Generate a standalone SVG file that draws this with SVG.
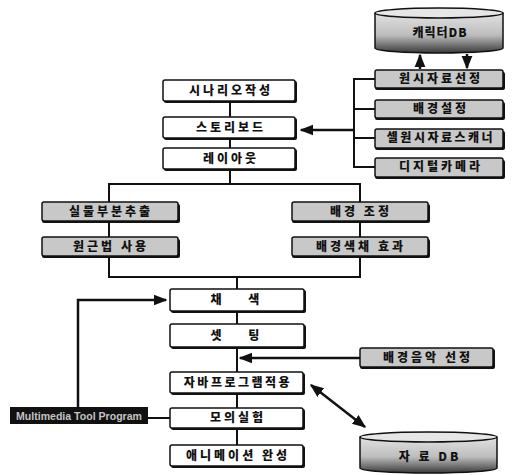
<svg xmlns="http://www.w3.org/2000/svg" width="516" height="475" viewBox="0 0 516 475">
<style>
.t{font-family:"Noto Sans CJK KR","Noto Sans",sans-serif;font-weight:900;font-size:12px;letter-spacing:3px;text-anchor:middle;fill:#111}
.w{fill:#fff;stroke:#111;stroke-width:1.5}
.g{fill:#c8c8c8;stroke:#111;stroke-width:1.5}
.sh{fill:#111}
.ln{fill:none;stroke:#111;stroke-width:2}
.ar{fill:none;stroke:#111;stroke-width:2.5}
</style>
<defs>
<marker id="ah" viewBox="0 0 10 10" refX="9" refY="5" markerWidth="5.5" markerHeight="5.5" orient="auto-start-reverse" markerUnits="strokeWidth"><path d="M0,1 L10,5 L0,9 z" fill="#111"/></marker>
<linearGradient id="cyl" x1="0" y1="0" x2="0" y2="1"><stop offset="0" stop-color="#e2e2e2"/><stop offset="0.55" stop-color="#bdbdbd"/><stop offset="1" stop-color="#3a3a3a"/></linearGradient>
</defs>
<g id="connectors">
<polyline class="ln" points="230,102 230,117"/>
<polyline class="ln" points="230,138 230,148"/>
<polyline class="ln" points="230,170 230,184"/>
<polyline class="ln" points="109,202 109,184 360,184 360,202"/>
<line class="ln" x1="109" y1="221" x2="109" y2="237"/>
<line class="ln" x1="360" y1="221" x2="360" y2="237"/>
<polyline class="ln" points="109,256 109,277 360,277 360,256"/>
<line class="ln" x1="237" y1="277" x2="237" y2="289"/>
<line class="ln" x1="237" y1="312" x2="237" y2="324"/>
<line class="ln" x1="237" y1="348" x2="237" y2="372"/>
<line class="ln" x1="237" y1="393" x2="237" y2="408"/>
<line class="ln" x1="237" y1="428" x2="237" y2="445"/>
<polyline class="ar" points="78,407 78,300 166,300" marker-end="url(#ah)"/>
<line class="ln" x1="148" y1="418" x2="170" y2="418"/>
<line class="ar" x1="360" y1="358" x2="240" y2="358" marker-end="url(#ah)"/>
<line class="ar" x1="311" y1="385" x2="365" y2="427" marker-start="url(#ah)" marker-end="url(#ah)"/>
<polyline class="ln" points="375,79 354,79 354,167 375,167"/>
<line class="ln" x1="354" y1="109" x2="375" y2="109"/>
<line class="ln" x1="354" y1="138" x2="375" y2="138"/>
<line class="ar" x1="354" y1="130" x2="301" y2="130" marker-end="url(#ah)"/>
<line class="ar" x1="420" y1="69" x2="420" y2="55" marker-end="url(#ah)"/>
<line class="ar" x1="467" y1="54" x2="467" y2="68" marker-end="url(#ah)"/>
</g>
<g id="chardb">
<path d="M375,13 L375,48 A64,5 0 0 0 503,48 L503,13" fill="url(#cyl)" stroke="#111" stroke-width="1.5"/>
<ellipse cx="439" cy="13" rx="64" ry="5" fill="#e6e6e6" stroke="#111" stroke-width="1.5"/>
<text class="t" x="440" y="37" style="letter-spacing:1px">캐릭터DB</text>
</g>
<g id="n1"><rect class="sh" x="375" y="72" width="130" height="18" rx="2"/><rect class="g" x="375" y="70" width="128" height="18" rx="2"/><text class="t" x="441" y="83">원시자료선정</text></g>
<g id="n2"><rect class="sh" x="375" y="102" width="130" height="18" rx="2"/><rect class="g" x="375" y="100" width="128" height="18" rx="2"/><text class="t" x="441" y="113">배경설정</text></g>
<g id="n3"><rect class="sh" x="375" y="131" width="130" height="19" rx="2"/><rect class="g" x="375" y="129" width="128" height="19" rx="2"/><text class="t" x="441" y="142" style="letter-spacing:2.5px">셀원시자료스캐너</text></g>
<g id="n4"><rect class="sh" x="375" y="160" width="130" height="19" rx="2"/><rect class="g" x="375" y="158" width="128" height="19" rx="2"/><text class="t" x="441" y="171">디지털카메라</text></g>
<g id="scenario"><rect class="sh" x="164" y="81" width="133" height="22" rx="2"/><rect class="w" x="163" y="80" width="132" height="21" rx="2"/><text class="t" x="231" y="95">시나리오작성</text></g>
<g id="storyboard"><rect class="sh" x="164" y="118" width="133" height="22" rx="2"/><rect class="w" x="163" y="117" width="132" height="21" rx="2"/><text class="t" x="231" y="132">스토리보드</text></g>
<g id="layout"><rect class="sh" x="164" y="149" width="133" height="22" rx="2"/><rect class="w" x="163" y="148" width="132" height="21" rx="2"/><text class="t" x="231" y="163">레이아웃</text></g>
<g id="extract"><rect class="sh" x="42" y="204" width="138" height="19" rx="2"/><rect class="g" x="42" y="202" width="136" height="19" rx="2"/><text class="t" x="111" y="216">실물부분추출</text></g>
<g id="perspective"><rect class="sh" x="42" y="239" width="138" height="19" rx="2"/><rect class="g" x="42" y="237" width="136" height="19" rx="2"/><text class="t" x="111" y="251">원근법 사용</text></g>
<g id="bgadjust"><rect class="sh" x="292" y="204" width="138" height="19" rx="2"/><rect class="g" x="292" y="202" width="136" height="19" rx="2"/><text class="t" x="361" y="216">배경 조정</text></g>
<g id="bgcolor"><rect class="sh" x="292" y="239" width="138" height="19" rx="2"/><rect class="g" x="292" y="237" width="136" height="19" rx="2"/><text class="t" x="361" y="251">배경색채 효과</text></g>
<g id="coloring"><rect class="sh" x="171" y="290" width="135" height="23" rx="2"/><rect class="w" x="170" y="289" width="134" height="22" rx="2"/><text class="t" x="241" y="304" style="letter-spacing:12px">채 색</text></g>
<g id="setting"><rect class="sh" x="171" y="325" width="135" height="24" rx="2"/><rect class="w" x="170" y="324" width="134" height="23" rx="2"/><text class="t" x="241" y="340" style="letter-spacing:12px">셋 팅</text></g>
<g id="bgm"><rect class="sh" x="360" y="349" width="135" height="20" rx="2"/><rect class="g" x="360" y="348" width="133" height="19" rx="2"/><text class="t" x="428" y="362">배경음악 선정</text></g>
<g id="java"><rect class="sh" x="171" y="373" width="134" height="22" rx="2"/><rect class="w" x="170" y="372" width="133" height="21" rx="2"/><text class="t" x="238" y="387" style="letter-spacing:2.5px">자바프로그램적용</text></g>
<g id="tool"><rect x="10" y="407" width="138" height="17" fill="#111"/><text x="79" y="419.5" textLength="126" lengthAdjust="spacingAndGlyphs" style="font-family:'Liberation Sans',sans-serif;font-weight:bold;font-size:11px;fill:#c4c4c4;text-anchor:middle">Multimedia Tool Program</text></g>
<g id="sim"><rect class="sh" x="171" y="409" width="134" height="21" rx="2"/><rect class="w" x="170" y="408" width="133" height="20" rx="2"/><text class="t" x="238" y="422">모의실험</text></g>
<g id="anim"><rect class="sh" x="171" y="446" width="134" height="22" rx="2"/><rect class="w" x="170" y="445" width="133" height="21" rx="2"/><text class="t" x="238" y="460">애니메이션 완성</text></g>
<g id="datadb">
<path d="M360,437 L360,468 A68,5 0 0 0 497,468 L497,437" fill="url(#cyl)" stroke="#111" stroke-width="1.5"/>
<ellipse cx="428.5" cy="437" rx="68.5" ry="5" fill="#e6e6e6" stroke="#111" stroke-width="1.5"/>
<text class="t" x="430" y="461">자 료 DB</text>
</g>
</svg>
